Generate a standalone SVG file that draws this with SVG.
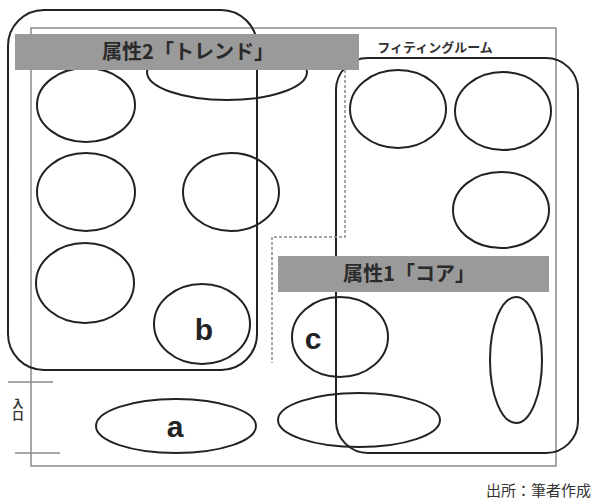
<svg xmlns="http://www.w3.org/2000/svg" width="593" height="500" viewBox="0 0 593 500">
<style>
.g{fill:none;stroke:#8a8a8a;stroke-width:1.5}
.k{fill:none;stroke:#222;stroke-width:2}
.e{fill:#fff;stroke:#222;stroke-width:2}
.d{fill:none;stroke:#8a8a8a;stroke-width:1.5;stroke-dasharray:3 2}
.ban{fill:#9a9a9a}
.bt{font-family:"Noto Sans CJK JP","Noto Sans",sans-serif;font-size:20px;font-weight:bold;fill:#2a2a2a;text-anchor:middle}
.lt{font-family:"Liberation Sans",Arial,sans-serif;font-size:30px;font-weight:bold;fill:#222;text-anchor:middle}
.sm{font-family:"Noto Sans CJK JP","Noto Sans",sans-serif;fill:#333}
</style>
<rect width="593" height="500" fill="#fff"/>
<g id="store">
<rect class="g" x="31" y="28" width="525" height="438"/>
</g>
<g id="entrance">
<line class="g" x1="8" y1="382" x2="53" y2="382"/>
<line class="g" x1="15" y1="453" x2="60" y2="453"/>
<text class="sm" font-size="11" font-weight="bold" x="18" y="398" style="writing-mode:vertical-rl" letter-spacing="1">入口</text>
</g>
<g id="shelves">
<ellipse id="e1" class="e" cx="86" cy="105" rx="49" ry="37"/>
<ellipse id="e2" class="e" cx="86" cy="192" rx="49" ry="39"/>
<ellipse id="e3" class="e" cx="231" cy="192" rx="48" ry="39"/>
<ellipse id="e4" class="e" cx="227" cy="72" rx="80" ry="28"/>
<ellipse id="e5" class="e" cx="85" cy="283" rx="49" ry="40"/>
<ellipse id="e8" class="e" cx="398" cy="109" rx="48" ry="39"/>
<ellipse id="e9" class="e" cx="503" cy="111" rx="48" ry="39"/>
<ellipse id="e10" class="e" cx="501" cy="210" rx="48" ry="38"/>
<ellipse id="e13" class="e" cx="516" cy="360" rx="26" ry="63"/>
</g>
<g id="node-b">
<ellipse class="e" cx="202" cy="324" rx="48" ry="40"/>
<text class="lt" x="204" y="340">b</text>
</g>
<g id="node-a">
<ellipse class="e" cx="176" cy="426" rx="80" ry="27"/>
<text class="lt" x="175" y="437">a</text>
</g>
<g id="node-c">
<ellipse class="e" cx="340" cy="337" rx="48" ry="40"/>
<text class="lt" x="313" y="349">c</text>
</g>
<g id="e12">
<ellipse class="e" cx="359" cy="420" rx="81" ry="27"/>
</g>
<g id="zones">
<rect id="trend-zone" class="k" x="8" y="10" width="249" height="360" rx="36"/>
<rect id="fitting-zone" class="k" x="336" y="58" width="242" height="395" rx="32"/>
<text class="sm" font-size="13" font-weight="bold" x="435" y="52" text-anchor="middle">フィティングルーム</text>
</g>
<g id="connectors">
<polyline class="d" points="345,70 345,237 272,237 272,363"/>
</g>
<g id="banner-trend">
<rect class="ban" x="15" y="34" width="344" height="36"/>
<text class="bt" x="188" y="59">属性2「トレンド」</text>
</g>
<g id="banner-core">
<rect class="ban" x="278" y="256" width="271" height="36"/>
<text class="bt" x="409" y="281">属性1「コア」</text>
</g>
<text class="sm" font-size="15" x="591" y="496" text-anchor="end">出所：筆者作成</text>
</svg>
